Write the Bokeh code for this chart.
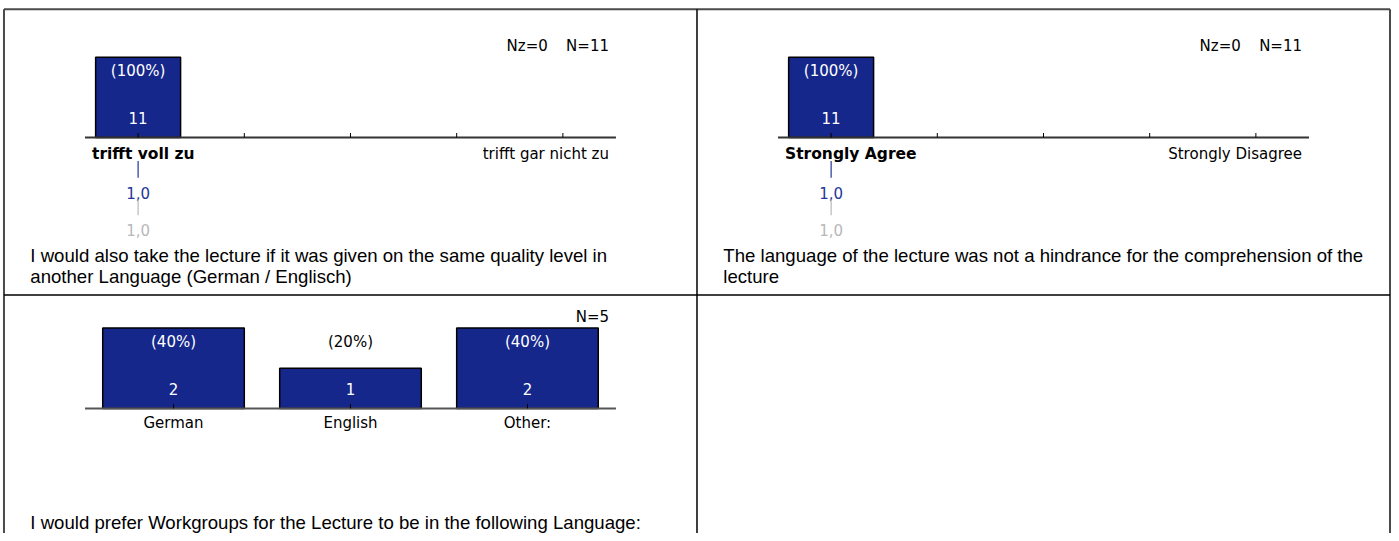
from bokeh.plotting import figure
from bokeh.models import Range1d, ColumnDataSource
from bokeh.embed import file_html
from bokeh.resources import INLINE
from bokeh.core.properties import value

# ---------------- data ----------------
q1_question = ["I would also take the lecture if it was given on the same quality level in",
               "another Language (German / Englisch)"]
q1_counts = [11, 0, 0, 0, 0]
q1_poles = ["trifft voll zu", "trifft gar nicht zu"]
q1_nz = 0
q1_mean = 1.0
q1_mean_cmp = 1.0

q2_question = ["The language of the lecture was not a hindrance for the comprehension of the",
               "lecture"]
q2_counts = [11, 0, 0, 0, 0]
q2_poles = ["Strongly Agree", "Strongly Disagree"]
q2_nz = 0
q2_mean = 1.0
q2_mean_cmp = 1.0

q3_question = ["I would prefer Workgroups for the Lecture to be in the following Language:"]
q3_categories = ["German", "English", "Other:"]
q3_counts = [2, 1, 2]

# ---------------- layout / style ----------------
W, H = 1391, 533
REF_X0, REF_X1 = 0.0, 1399.0
REF_Y_TOP, REF_Y_BOT = 0.0, 541.0
BAR_COLOR = "#16278c"
BLUE = "#24369a"
GREY = "#b8b8b8"
LABEL_FONT = value("DejaVu Sans")
Q_FONT = value("Liberation Sans")
LBL_SIZE = "15px"
Q_SIZE = "18.6px"
BAR_MAX_PX = 81.5

p = figure(width=W, height=H, x_range=Range1d(REF_X0, REF_X1),
           y_range=Range1d(REF_Y_BOT, REF_Y_TOP),
           output_backend="svg", toolbar_location=None,
           x_axis_location=None, y_axis_location=None, min_border=0)
p.grid.visible = False
p.outline_line_color = None
p.background_fill_color = "white"
p.border_fill_color = "white"

# cell borders
p.segment(x0=[3.5, 3.5, 1397.5], y0=[9, 9, 9], x1=[1397.5, 3.5, 1397.5], y1=[9, 541, 541],
          line_color="#4a4a4a", line_width=2)
p.segment(x0=[3.5, 700.5], y0=[299, 9], x1=[1397.5, 700.5], y1=[299, 541],
          line_color="#000000", line_width=1.5)


def add_text(x, y, t, align="center", color="black", size=LBL_SIZE, style="normal",
             font=LABEL_FONT, baseline="middle", **kw):
    p.text(x=x, y=y, text=t, text_font=font, text_font_size=size, text_font_style=style,
           text_color=color, text_align=align, text_baseline=baseline, **kw)


def add_chart(name, counts, x0, x1, base, labels=None, poles=None, nz=None,
              mean=None, mean_cmp=None, question=(), qx=30, qy=(), axis_color="#333333"):
    n = len(counts)
    total = sum(counts)
    spacing = (x1 - x0) / n
    unit = BAR_MAX_PX / max(counts)
    xr = name + "_x"
    yr = name + "_y"
    p.extra_x_ranges[xr] = Range1d((REF_X0 - x0) / spacing - 0.5, (REF_X1 - x0) / spacing - 0.5)
    p.extra_y_ranges[yr] = Range1d((base - REF_Y_BOT) / unit, (base - REF_Y_TOP) / unit)
    rk = dict(x_range_name=xr, y_range_name=yr)

    def dy(px):  # vertical pixel distance in data units
        return px / unit

    idx = [i for i in range(n) if counts[i] > 0]
    src = ColumnDataSource(dict(x=idx, top=[counts[i] for i in idx]))
    p.vbar(x="x", top="top", bottom=0, width=0.8, source=src, fill_color=BAR_COLOR,
           line_color="black", line_width=1.5, **rk)
    # axis line + ticks
    p.segment(x0=[-0.5], y0=[0], x1=[n - 0.5], y1=[0], line_color=axis_color,
              line_width=2, **rk)
    p.segment(x0=list(range(n)), y0=[0] * n, x1=list(range(n)), y1=[dy(4.5)] * n,
              line_color="black", line_width=1, **rk)
    # percent + count labels
    mx = max(counts)
    pct_src = ColumnDataSource(dict(
        x=idx, y=[mx - dy(14)] * len(idx),
        t=["(%d%%)" % round(100 * counts[i] / total) for i in idx],
        c=["white" if counts[i] >= mx - dy(6) else "black" for i in idx]))
    p.text(x="x", y="y", text="t", text_color="c", source=pct_src, text_font=LABEL_FONT,
           text_font_size=LBL_SIZE, text_align="center", text_baseline="middle", **rk)
    cnt_src = ColumnDataSource(dict(x=idx, y=[dy(20)] * len(idx), t=[str(counts[i]) for i in idx]))
    p.text(x="x", y="y", text="t", text_color="white", source=cnt_src, text_font=LABEL_FONT,
           text_font_size=LBL_SIZE, text_align="center", text_baseline="middle", **rk)
    # N labels (top right)
    top_y = base - BAR_MAX_PX - 11
    add_text([x1 - 7], [top_y], ["N=%d" % total], align="right")
    if nz is not None:
        add_text([x1 - 110], [top_y], ["Nz=%d" % nz], align="left")
    # category labels
    if labels is not None:
        add_text(list(range(n)), [-dy(15)] * n, labels, **rk)
    if poles is not None:
        add_text([x0 + 7], [base + 17], [poles[0]], align="left", style="bold", size="15.5px")
        add_text([x1 - 7], [base + 17], [poles[1]], align="right")
    if mean is not None:
        mx_ = [mean - 1]
        p.segment(x0=mx_, y0=[-dy(24)], x1=mx_, y1=[-dy(41)], line_color=BLUE,
                  line_width=1.2, **rk)
        add_text(mx_, [-dy(56)], [("%.1f" % mean).replace(".", ",")], color=BLUE, **rk)
        mc = [mean_cmp - 1]
        p.segment(x0=mc, y0=[-dy(63)], x1=mc, y1=[-dy(79)], line_color=GREY,
                  line_width=1.2, **rk)
        add_text(mc, [-dy(94)], [("%.1f" % mean_cmp).replace(".", ",")], color=GREY, **rk)
    # question text
    add_text([qx] * len(question), list(qy), list(question), align="left", size=Q_SIZE,
             font=Q_FONT, baseline="alphabetic")


add_chart("q1", q1_counts, 85, 619, 139, poles=q1_poles, nz=q1_nz, mean=q1_mean,
          mean_cmp=q1_mean_cmp, question=q1_question, qx=30, qy=(259, 280))
add_chart("q2", q2_counts, 782, 1316, 139, poles=q2_poles, nz=q2_nz, mean=q2_mean,
          mean_cmp=q2_mean_cmp, question=q2_question, qx=727, qy=(259, 280))
add_chart("q3", q3_counts, 85, 619, 414, labels=q3_categories, question=q3_question,
          qx=30, qy=(530,), axis_color="#555555")

open("out.html", "w").write(file_html(p, INLINE))
